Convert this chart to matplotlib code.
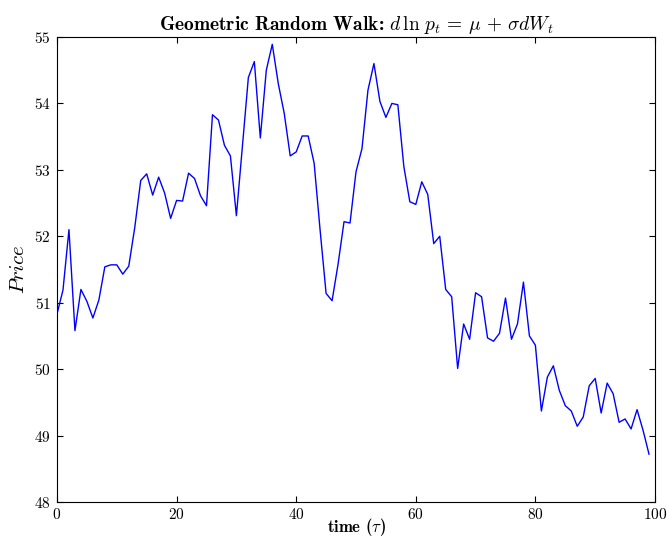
import numpy as np
import matplotlib
matplotlib.use('Agg')
import matplotlib.pyplot as plt

plt.rcParams['font.family'] = 'serif'
plt.rcParams['font.serif'] = ['cmr10']
plt.rcParams['mathtext.fontset'] = 'cm'
plt.rcParams['axes.formatter.use_mathtext'] = True
plt.rcParams['xtick.direction'] = 'in'
plt.rcParams['ytick.direction'] = 'in'
plt.rcParams['xtick.top'] = True
plt.rcParams['ytick.right'] = True

# price path, one value per time step
t = np.arange(100)
price = [
    50.83, 51.19, 52.10, 50.58, 51.20, 51.02, 50.77, 51.04, 51.54, 51.57,
    51.57, 51.43, 51.55, 52.13, 52.84, 52.94, 52.62, 52.89, 52.65, 52.27,
    52.54, 52.53, 52.95, 52.87, 52.61, 52.46, 53.83, 53.75, 53.37, 53.21,
    52.31, 53.35, 54.39, 54.63, 53.48, 54.50, 54.89, 54.30, 53.85, 53.21,
    53.27, 53.51, 53.51, 53.10, 52.09, 51.14, 51.03, 51.58, 52.22, 52.20,
    52.97, 53.32, 54.20, 54.60, 54.03, 53.79, 54.00, 53.98, 53.05, 52.52,
    52.48, 52.82, 52.63, 51.89, 52.00, 51.20, 51.09, 50.01, 50.68, 50.45,
    51.15, 51.09, 50.47, 50.42, 50.54, 51.07, 50.45, 50.68, 51.31, 50.50,
    50.36, 49.37, 49.88, 50.05, 49.68, 49.45, 49.37, 49.14, 49.28, 49.75,
    49.86, 49.34, 49.79, 49.63, 49.20, 49.25, 49.10, 49.39, 49.08, 48.72,
]

fig = plt.figure(figsize=(6.67, 5.38), dpi=100)
ax = fig.add_axes([57 / 667, 1 - 502 / 538, 598 / 667, 465 / 538])
ax.plot(t, price, color='blue', lw=1.0)
ax.set_xlim(0, 100)
ax.set_ylim(48, 55)
ax.tick_params(labelsize=11, length=4, width=0.8)
ax.tick_params(axis='x', pad=3.5)
ax.tick_params(axis='y', pad=4.5)

ax.set_title(r'Geometric Random Walk: $d\,\ln\,p_t \,=\, \mu \,+\, \sigma dW_t$',
             fontsize=14, family='cmb10', pad=5)
ax.set_xlabel(r'time ($\tau$)', fontsize=12, family='cmb10', labelpad=-4)
ax.set_ylabel(r'$Price$', fontsize=15, labelpad=4)

fig.savefig('out.png', dpi=100)
